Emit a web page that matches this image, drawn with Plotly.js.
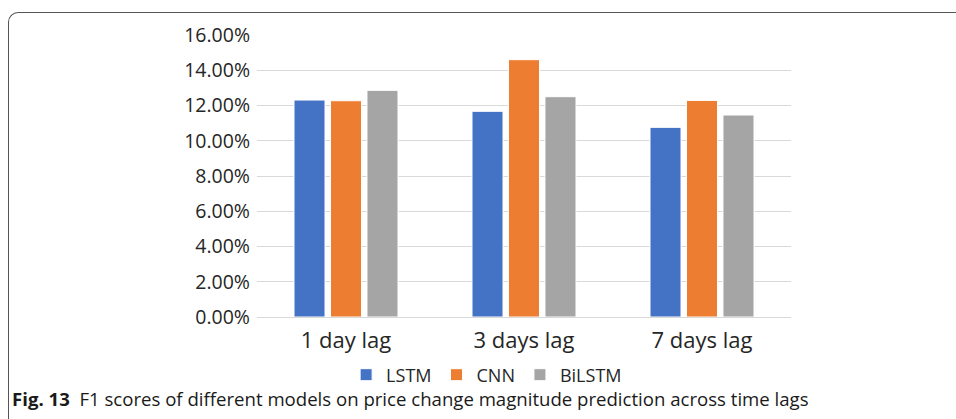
<!DOCTYPE html>
<html>
<head>
<meta charset="utf-8">
<script src="https://cdn.plot.ly/plotly-3.0.1.min.js"></script>
<style>
  html, body { margin: 0; padding: 0; background: #fff; }
  #wrap { position: relative; width: 956px; height: 419px; overflow: hidden; }
  #frame { position: absolute; left: 8px; top: 12px; width: 960px; height: 420px;
           border-left: 1.3px solid #555; border-top: 1.3px solid #555;
           border-top-left-radius: 10px; box-sizing: border-box; pointer-events: none; }
  #chart { position: absolute; left: 0; top: 0; width: 956px; height: 419px; }
</style>
</head>
<body>
<div id="wrap">
  <div id="chart"></div>
  <div id="frame"></div>
</div>
<script>
const categories = ["1 day lag", "3 days lag", "7 days lag"];
const seriesNames = ["LSTM", "CNN", "BiLSTM"];
const lstm = [0.1231, 0.1167, 0.1076];
const cnn = [0.1227, 0.1460, 0.1229];
const bilstm = [0.1286, 0.1250, 0.1146];
const colors = ["#4472C4", "#ED7D31", "#A5A5A5"];
const captionBold = "Fig. 13";
const captionText = "F1 scores of different models on price change magnitude prediction across time lags";

const seriesValues = [lstm, cnn, bilstm];
const traces = seriesNames.map((name, i) => ({
  type: "bar",
  name: name,
  x: categories,
  y: seriesValues[i],
  marker: { color: colors[i], line: { color: "#ffffff", width: 1 } },
  hoverinfo: "none"
}));

const layout = {
  width: 956,
  height: 419,
  margin: { l: 257, r: 165, t: 35, b: 102 },
  paper_bgcolor: "#ffffff",
  plot_bgcolor: "#ffffff",
  barmode: "group",
  bargap: 0.385,
  bargroupgap: 0.15,
  font: { family: "Open Sans, Noto Sans, sans-serif", color: "#262626" },
  xaxis: {
    showgrid: false,
    showline: false,
    zeroline: false,
    ticks: "",
    ticklabelstandoff: 8,
    tickfont: { size: 22, color: "#262626" },
    fixedrange: true
  },
  yaxis: {
    range: [0, 0.16],
    dtick: 0.02,
    tickformat: ".2%",
    showgrid: true,
    gridcolor: "#d9d9d9",
    gridwidth: 1,
    zeroline: true,
    zerolinecolor: "#d9d9d9",
    zerolinewidth: 1,
    showline: false,
    ticks: "",
    ticklen: 0,
    ticklabelstandoff: 6,
    tickfont: { size: 19.5, color: "#262626" },
    fixedrange: true
  },
  showlegend: true,
  legend: {
    orientation: "h",
    x: 0.43,
    xanchor: "center",
    y: -0.14,
    yanchor: "top",
    font: { size: 18, color: "#262626" },
    itemwidth: 30,
    tracegroupgap: 0
  },
  annotations: [{
    xref: "paper", yref: "paper",
    x: -0.462, y: -0.29,
    xanchor: "left", yanchor: "middle",
    showarrow: false,
    text: "<b>" + captionBold + "</b>  " + captionText,
    font: { family: "Open Sans, Noto Sans, sans-serif", size: 18.6, color: "#1a1a1a" }
  }]
};

Plotly.newPlot("chart", traces, layout, { displayModeBar: false, staticPlot: true });
</script>
</body>
</html>
